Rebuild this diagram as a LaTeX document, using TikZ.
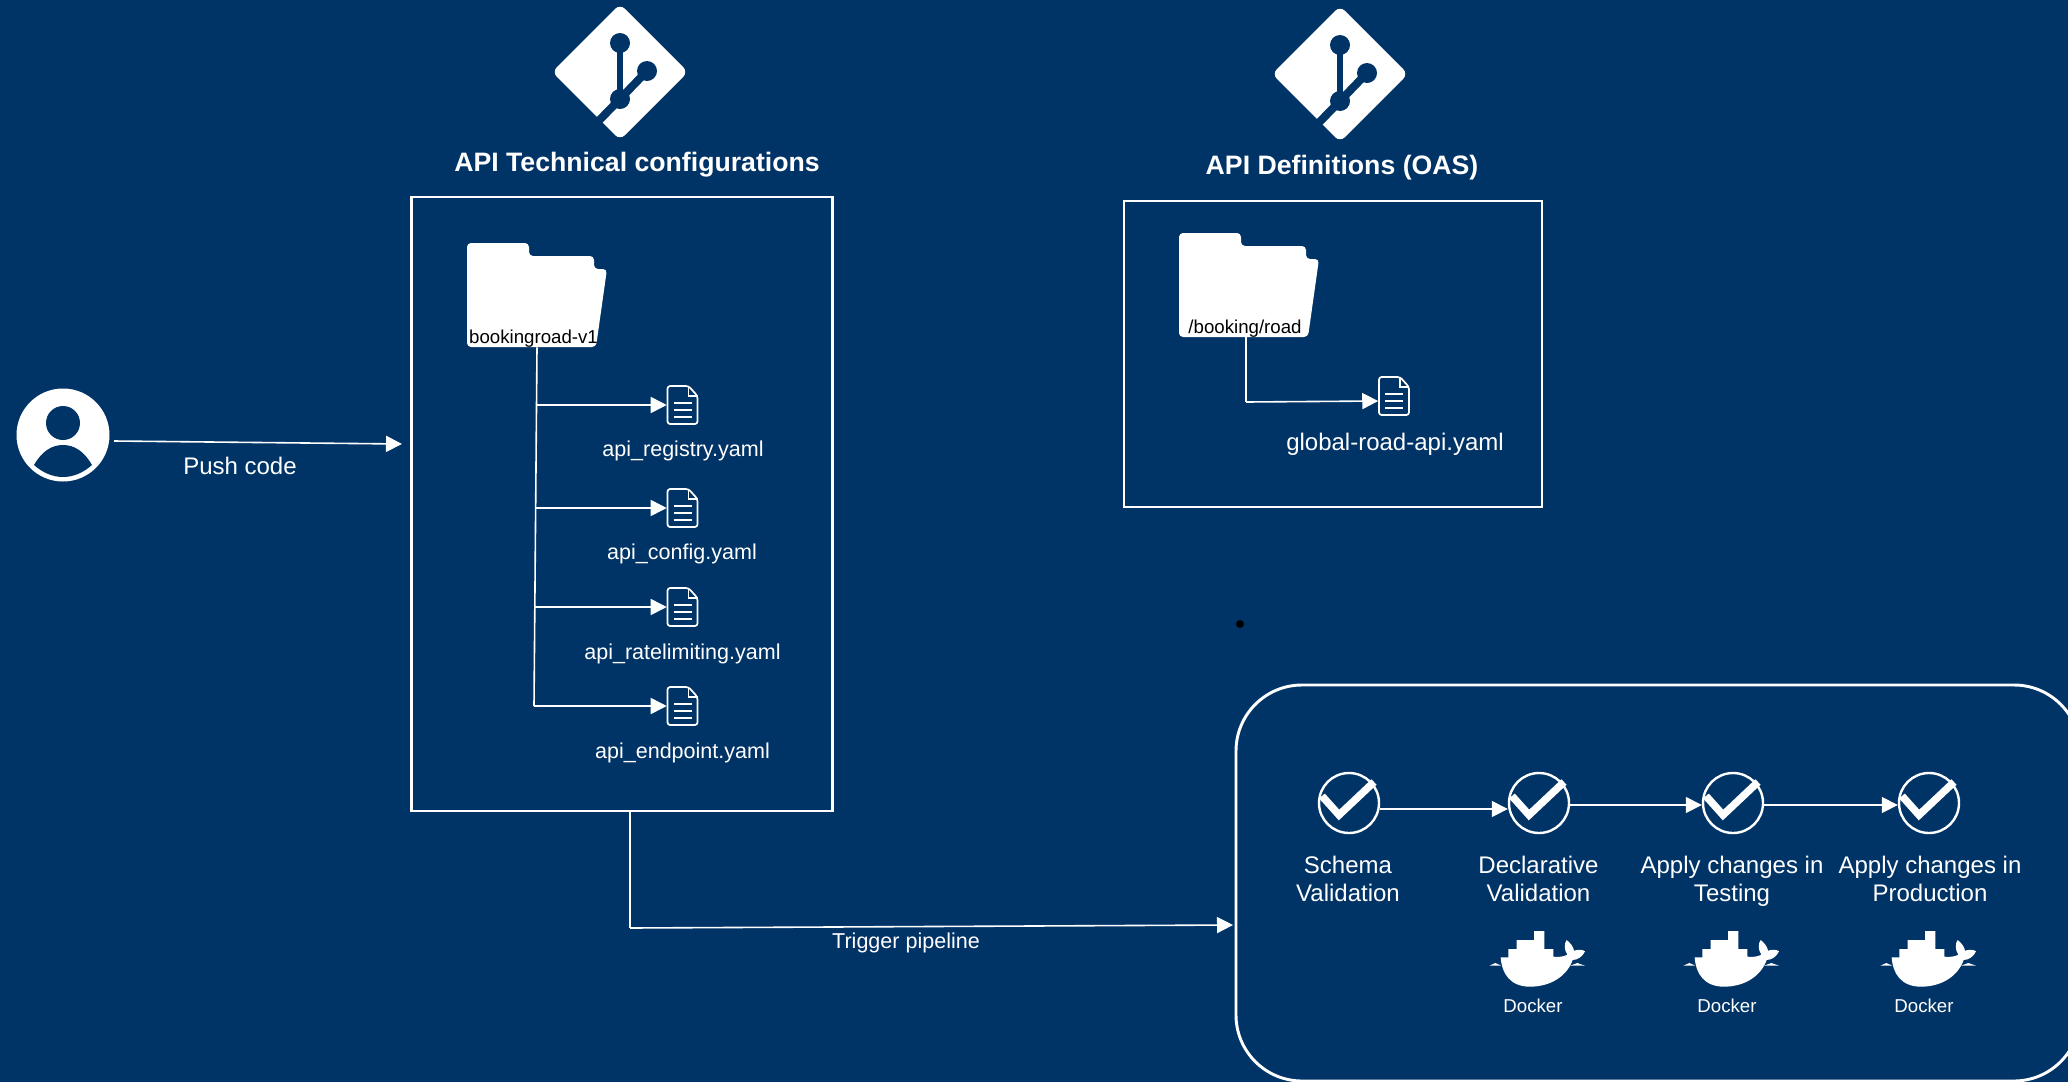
\documentclass[tikz,border=0pt]{standalone}
\usepackage{fontspec}
\setmainfont{Liberation Sans}
\usetikzlibrary{arrows.meta}
\definecolor{navy}{HTML}{003366}
\tikzset{
  x=0.75pt,y=-0.75pt,
  conn/.style={white,line width=1.2pt},
  arr/.style={conn,-{Triangle[length=12pt,width=12pt]}},
  frame/.style={draw=white,line width=2pt,inner sep=0pt},
  txt/.style={text=white,anchor=base,inner sep=0pt,align=center},
  big/.style={font=\fontsize{18}{21}\selectfont},
  mid/.style={font=\fontsize{16.15}{19}\selectfont},
  small/.style={font=\fontsize{14}{17}\selectfont},
  ttl/.style={font=\bfseries\fontsize{20}{24}\selectfont},
  flabel/.style={text=black,anchor=base,inner sep=0pt,font=\fontsize{14}{16}\selectfont},
  iconbox/.style 2 args={inner sep=0pt,minimum width=#1*0.75pt,minimum height=#2*0.75pt},
  chk/.style={circle,draw=white,line width=1.8pt,inner sep=0pt,minimum size=60*0.75pt},
  docicon/.pic={
    \draw[white,line width=1.3pt,rounded corners=2pt,line join=round]
      (-15,-19) -- (6,-19) -- (15,-9) -- (15,19) -- (-15,19) -- cycle;
    \draw[white,line width=1pt] (6,-19) -- (6,-9) -- (15,-9);
    \draw[white,line width=1.3pt]
      (-9,-2) -- (9,-2) (-9,5) -- (9,5) (-9,12) -- (9,12);
  },
  foldericon/.pic={
    \fill[white,rounded corners=3pt]
      (-70,-52) -- (-8,-52) -- (-8,-39) -- (57,-39) -- (57,-26) -- (70,-26)
      -- (59,52) -- (-70,52) -- cycle;
  },
  giticon/.pic={
    \fill[white,rounded corners=5pt] (0,-68) -- (68,0) -- (0,68) -- (-68,0) -- cycle;
    \draw[navy,line width=4.6pt] (0,-29) -- (0,27);
    \draw[navy,line width=6pt] (27,-1) -- (0,27) -- (-40,68);
    \fill[navy] (0,-29) circle[radius=10] (27,-1) circle[radius=10] (0,27) circle[radius=10];
  },
  checkicon/.pic={
    \draw[white,line width=5.6pt,line join=miter] (-27,-7) -- (-10,12) -- (25,-21);
  },
  usericon/.pic={
    \fill[navy] (0,-12) circle[radius=17];
    \fill[navy] (-29,30) .. controls (-21,16) and (-11,10) .. (0,10)
      .. controls (11,10) and (21,16) .. (29,30)
      .. controls (20,38) and (10,42) .. (0,42)
      .. controls (-10,42) and (-20,38) .. (-29,30) -- cycle;
  },
  whale/.pic={
    \begin{scope}[x=0.25pt,y=-0.25pt]
    \fill[white] (122,592) -- (145,592) -- (145,567) -- (170,567) -- (170,540) -- (222,540)
      -- (222,513) -- (253,513) -- (253,567) -- (280,567) -- (280,590)
      .. controls (295,592) and (312,590) .. (322,584)
      .. controls (312,570) and (312,550) .. (320,540)
      .. controls (332,550) and (340,560) .. (342,572)
      .. controls (355,568) and (368,568) .. (375,574)
      .. controls (368,590) and (352,600) .. (338,600)
      .. controls (320,650) and (270,680) .. (210,680)
      .. controls (150,680) and (125,640) .. (122,592) -- cycle;
    \fill[white] (88,617) -- (106,609) -- (124,617) -- cycle;
    \fill[white] (330,617) -- (352,609) -- (375,617) -- cycle;
    \end{scope}
  },
}
\begin{document}
\begin{tikzpicture}
\useasboundingbox (0,0) rectangle (2068,1082);
\fill[navy] (0,0) rectangle (2068,1082);

% git icons and titles
\node[iconbox={132}{132}] (gitA) at (620,72) {};
\pic at (gitA) {giticon};
\node[iconbox={132}{132}] (gitB) at (1340,74) {};
\pic at (gitB) {giticon};
\node[txt,ttl] (titleA) at (637,171) {API Technical configurations};
\node[txt,ttl] (titleB) at (1342,174) {API Definitions (OAS)};

% frames
\node[frame,minimum width=421*0.75pt,minimum height=614*0.75pt] (boxA) at (622,504) {};
\node[frame,minimum width=418*0.75pt,minimum height=306*0.75pt] (boxB) at (1333,354) {};
\draw[white,line width=2.2pt,rounded corners=49.5pt] (1236,685) rectangle (2080,1081);
\coordinate (boxCw) at (1233,925);

% user
\node[circle,fill=white,inner sep=0pt,minimum size=93*0.75pt] (user) at (63,435) {};
\pic at (user) {usericon};
\coordinate (pushS) at (114,441);
\coordinate (pushE) at (402,444);
\draw[arr] (pushS) -- (pushE);
\node[txt,big] (pushL) at (240,474) {Push code};

% folder A
\node[iconbox={140}{104}] (folderA) at (537,295) {};
\pic at (folderA) {foldericon};
\node[flabel] (folderAL) at (533.5,343) {bookingroad-v1};

% docs A
\node[iconbox={31}{38}] (docA) at (682.5,405) {};
\node[iconbox={31}{38}] (docB) at (682.5,508) {};
\node[iconbox={31}{38}] (docC) at (682.5,607) {};
\node[iconbox={31}{38}] (docD) at (682.5,706) {};
\pic at (docA) {docicon};
\pic at (docB) {docicon};
\pic at (docC) {docicon};
\pic at (docD) {docicon};
\node[txt,mid] (docAL) at (683,456) {api\_registry.yaml};
\node[txt,mid] (docBL) at (682,559) {api\_config.yaml};
\node[txt,mid] (docCL) at (682.5,659) {api\_ratelimiting.yaml};
\node[txt,mid] (docDL) at (682.5,758) {api\_endpoint.yaml};
\coordinate (trunkB) at (534,706);
\coordinate (brA) at (536,405);
\coordinate (brB) at (536,508);
\coordinate (brC) at (535,607);
\draw[conn] (folderA.south) -- (trunkB);
\draw[arr] (brA) -- (docA.west);
\draw[arr] (brB) -- (docB.west);
\draw[arr] (brC) -- (docC.west);
\draw[arr] (trunkB) -- (docD.west);

% folder B
\node[iconbox={140}{104}] (folderB) at (1249,285) {};
\pic at (folderB) {foldericon};
\node[flabel] (folderBL) at (1245,333) {/booking/road};
\node[iconbox={31}{38}] (docE) at (1394,396) {};
\pic at (docE) {docicon};
\node[txt,big] (docEL) at (1395,450) {global-road-api.yaml};
\coordinate (elbowB) at (1246,402);
\draw[conn] (1246,337) -- (elbowB);
\draw[arr] (elbowB) -- (docE.west |- 0,401);

% stray dot
\node[circle,fill=black,inner sep=0pt,minimum size=8*0.75pt] (dot) at (1240,624) {};

% trigger
\coordinate (trigS) at (630,812);
\coordinate (trigE) at (630,928);
\draw[conn] (trigS) -- (trigE);
\draw[arr] (trigE) -- (boxCw);
\node[txt,mid] (trigL) at (906,948) {Trigger pipeline};

% pipeline
\node[chk] (cA) at (1349,803) {};
\node[chk] (cB) at (1539,803) {};
\node[chk] (cC) at (1733,803) {};
\node[chk] (cD) at (1929,803) {};
\pic at (cA) {checkicon};
\pic at (cB) {checkicon};
\pic at (cC) {checkicon};
\pic at (cD) {checkicon};
\draw[arr] (cA.east |- 0,809) -- (cB.west |- 0,809);
\draw[arr] (cB.east |- 0,805) -- (cC.west |- 0,805);
\draw[arr] (cC.east |- 0,805) -- (cD.west |- 0,805);
\node[txt,big] (lA) at (1348,901) {Schema\\[-0.2pt]Validation};
\node[txt,big] (lB) at (1538.5,901) {Declarative\\[-0.2pt]Validation};
\node[txt,big] (lC) at (1732,901) {Apply changes in\\[-0.2pt]Testing};
\node[txt,big] (lD) at (1930,901) {Apply changes in\\[-0.2pt]Production};

% docker
\pic at (1460,760) {whale};
\pic at (1654,760) {whale};
\pic at (1851,760) {whale};
\node[txt,small] (dkA) at (1533,1012) {Docker};
\node[txt,small] (dkB) at (1727,1012) {Docker};
\node[txt,small] (dkC) at (1924,1012) {Docker};
\end{tikzpicture}
\end{document}
